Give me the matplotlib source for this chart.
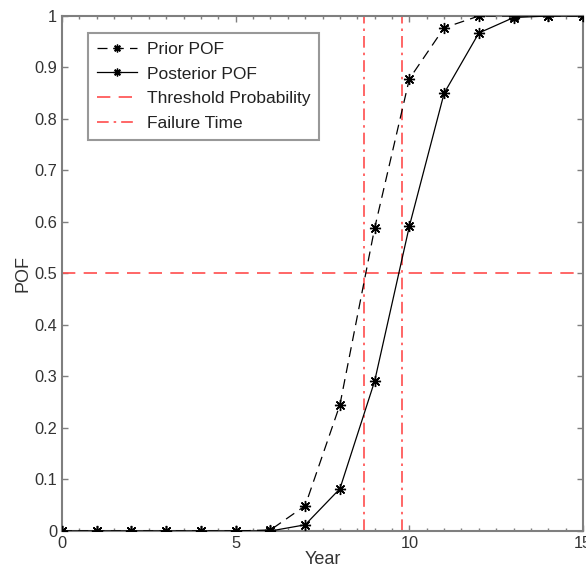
import matplotlib
matplotlib.use("Agg")
import matplotlib.pyplot as plt
from matplotlib.ticker import MultipleLocator

plt.rcParams['font.family'] = ['Liberation Sans', 'DejaVu Sans']

years = list(range(0, 16))
prior_pof = [0, 0, 0, 0, 0, 0, 0.002, 0.049, 0.245, 0.588, 0.878, 0.977, 1.0, 1.0, 1.0, 1.0]
posterior_pof = [0, 0, 0, 0, 0, 0, 0.0, 0.012, 0.082, 0.291, 0.592, 0.850, 0.967, 0.997, 1.0, 1.0]
threshold = 0.5
failure_times = [8.7, 9.8]
y_ticks = [0, 0.1, 0.2, 0.3, 0.4, 0.5, 0.6, 0.7, 0.8, 0.9, 1.0]
y_tick_labels = ['0', '0.1', '0.2', '0.3', '0.4', '0.5', '0.6', '0.7', '0.8', '0.9', '1']

red = '#ff4d4d'
gray = '#7f7f7f'
asterisk = (8, 2, 0)

fig = plt.figure(figsize=(5.86, 5.67), dpi=100)
ax = fig.add_axes([0.1058, 0.0635, 0.8892, 0.9083])

ax.plot(years, prior_pof, color='black', linestyle=(0, (8, 5)), linewidth=0.9,
        marker=asterisk, markersize=8, markeredgewidth=1.0, label='Prior POF', zorder=3)
ax.plot(years, posterior_pof, color='black', linestyle='-', linewidth=0.9,
        marker=asterisk, markersize=8, markeredgewidth=1.0, label='Posterior POF', zorder=3)
ax.axhline(threshold, color=red, linestyle=(0, (8, 5)), linewidth=1.2,
           label='Threshold Probability', zorder=2)
for i, ft in enumerate(failure_times):
    ax.axvline(ft, color=red, linestyle=(0, (7, 3, 1.5, 3)), linewidth=1.2,
               label='Failure Time' if i == 0 else None, zorder=2)

ax.set_xlim(0, 15)
ax.set_ylim(0, 1)
ax.xaxis.set_major_locator(MultipleLocator(5))
ax.xaxis.set_minor_locator(MultipleLocator(0.5))
ax.set_yticks(y_ticks)
ax.set_yticklabels(y_tick_labels)

ax.tick_params(which='both', direction='in', top=True, right=True,
               color=gray, labelcolor='#333333', labelsize=11.8)
ax.tick_params(which='major', length=4, width=1, pad=3.5)
ax.tick_params(which='minor', length=2, width=1)
for s in ax.spines.values():
    s.set_color(gray)
    s.set_linewidth(1.5)

ax.set_xlabel('Year', fontsize=13, color='#333333', labelpad=0)
ax.set_ylabel('POF', fontsize=13, color='#333333', labelpad=2)

leg = ax.legend(loc='upper left', bbox_to_anchor=(0.05, 0.967), fontsize=12.5,
                frameon=True, fancybox=False, handlelength=2.3, labelspacing=0.55,
                borderpad=0.5, handletextpad=0.6, borderaxespad=0, markerscale=0.7)
leg.get_frame().set_edgecolor(gray)
leg.get_frame().set_linewidth(1.5)
for t in leg.get_texts():
    t.set_color('#222222')

fig.savefig('out.png', dpi=100)
